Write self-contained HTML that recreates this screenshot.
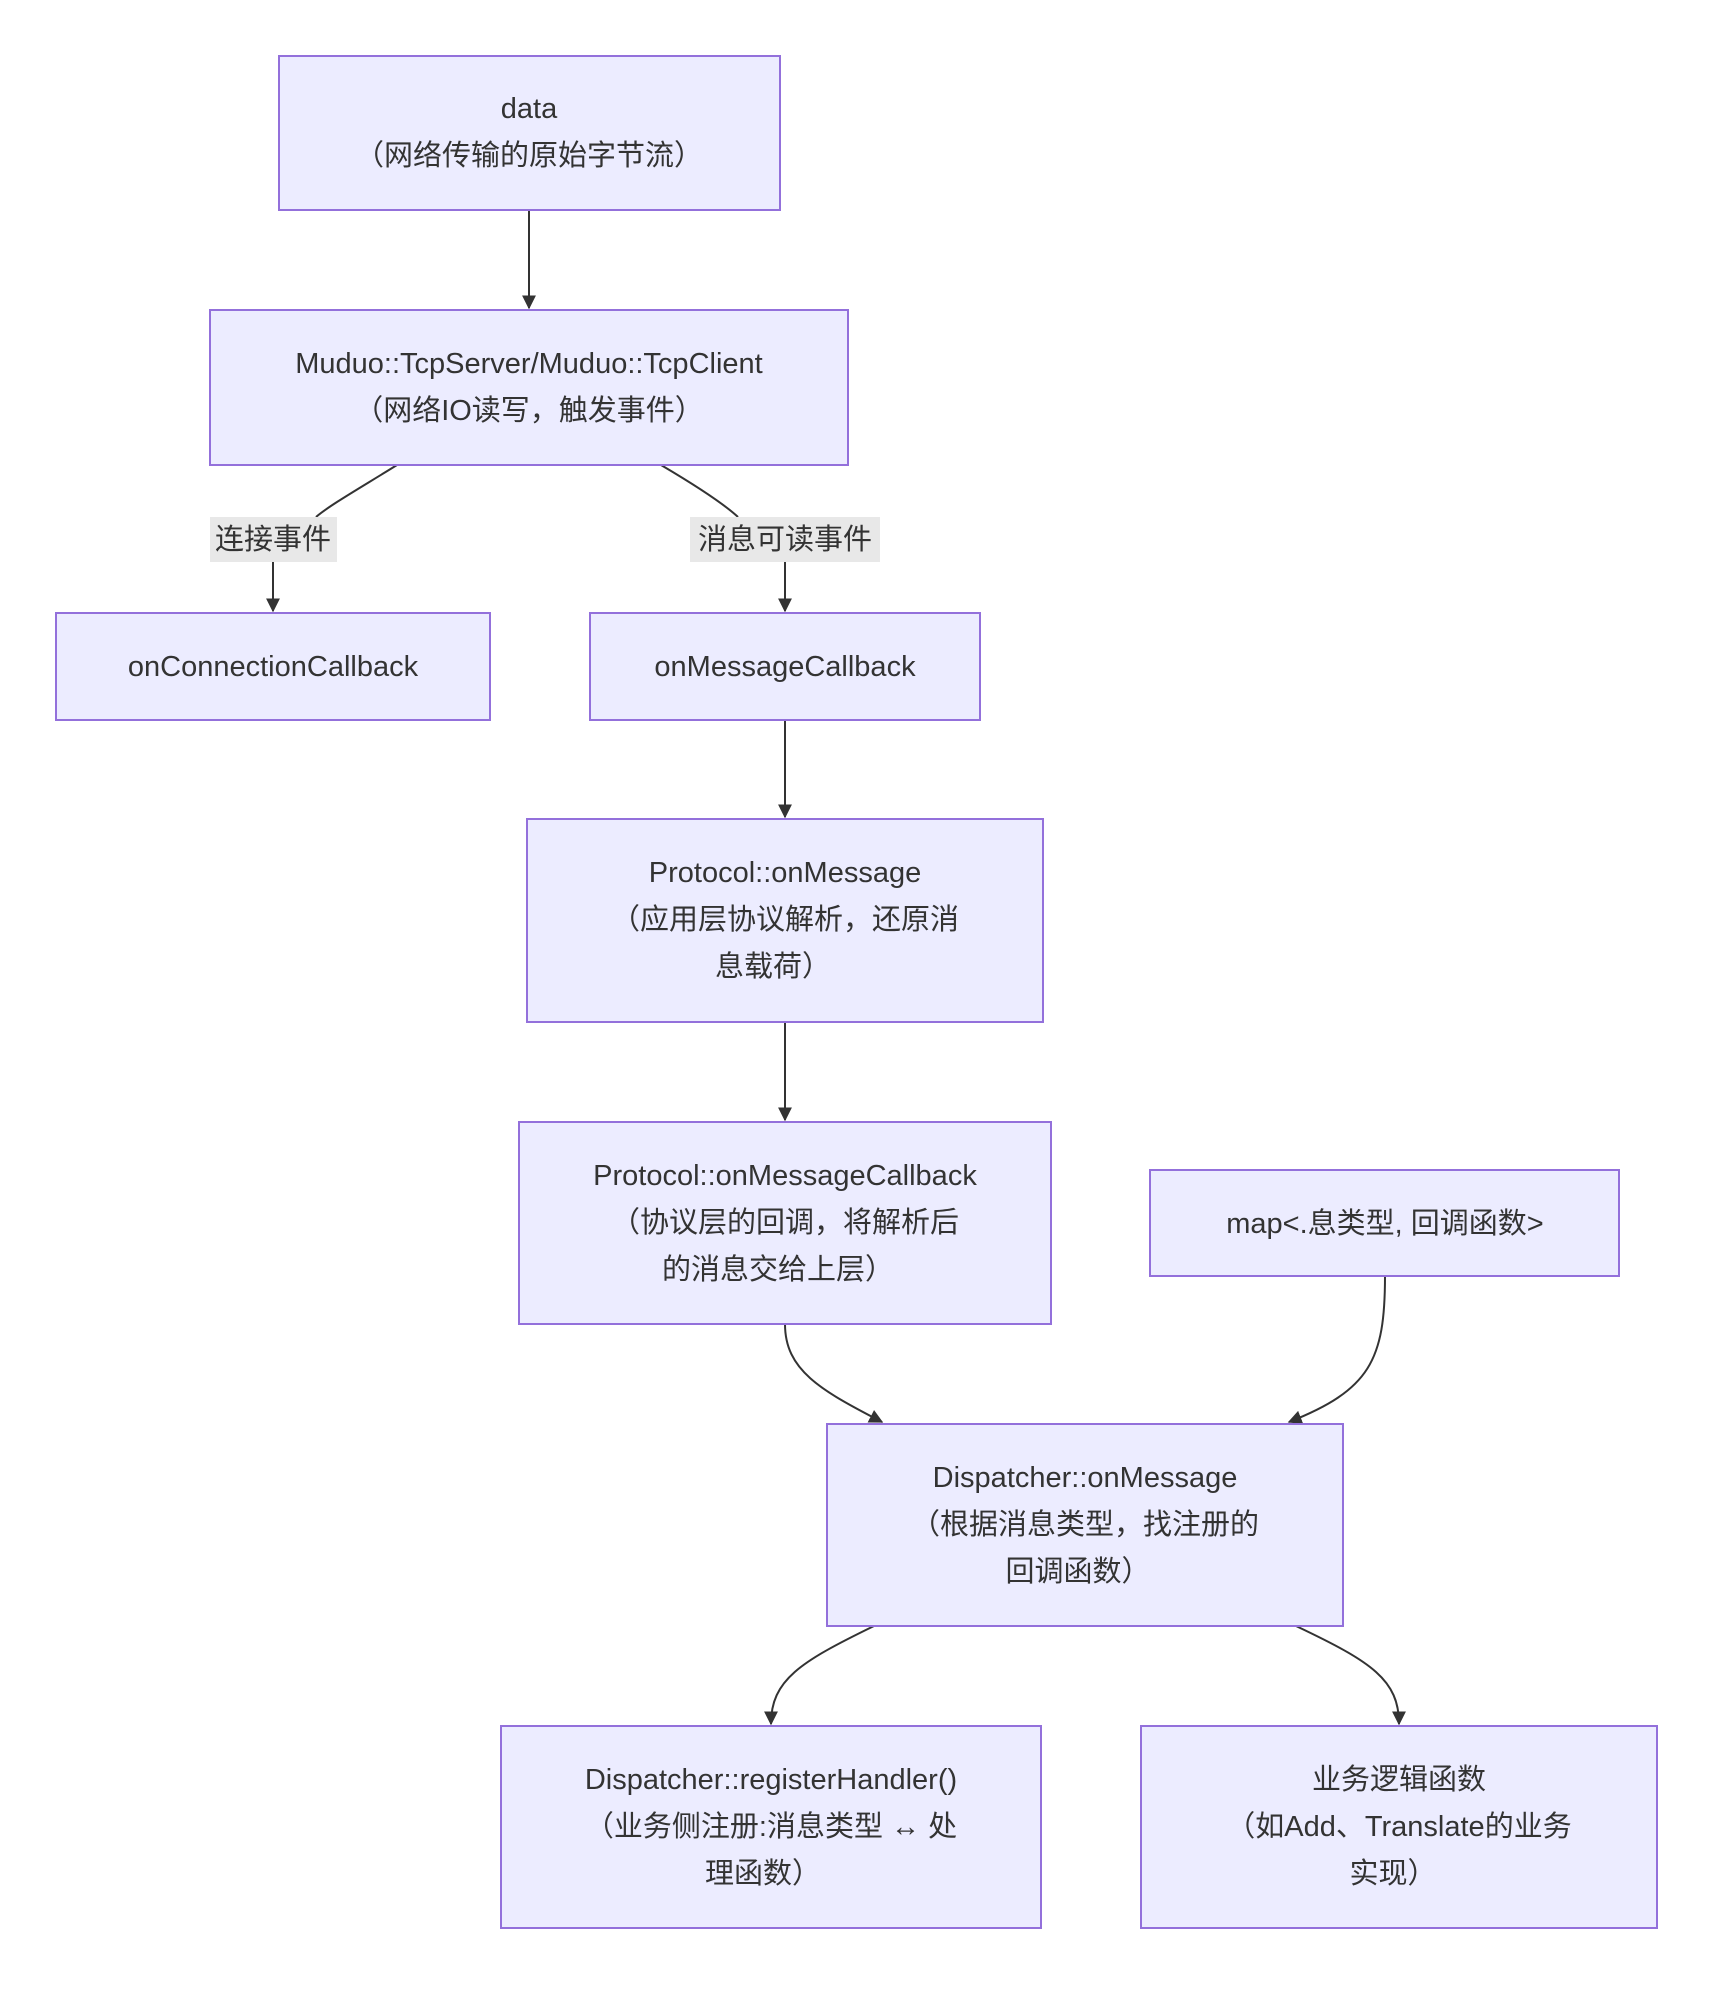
<!DOCTYPE html>
<html><head><meta charset="utf-8"><style>
html,body{margin:0;padding:0;background:#fff}
svg text{font-family:"Liberation Sans","Noto Sans CJK SC",sans-serif;font-size:29px;fill:#333;text-anchor:middle}
</style></head><body>
<svg width="1722" height="1996" viewBox="0 0 1722 1996" xmlns="http://www.w3.org/2000/svg">
<defs><marker id="a" viewBox="0 0 10 10" refX="9" refY="5" markerWidth="7" markerHeight="7" orient="auto"><path d="M0,0L10,5L0,10z" fill="#333"/></marker></defs>
<g fill="none" stroke="#333" stroke-width="2">
<path d="M529,210V308" marker-end="url(#a)"/>
<path d="M397,465C360,488 330,505 316,517"/>
<path d="M273,562C273,580 273,595 273,611" marker-end="url(#a)"/>
<path d="M661,465C700,488 725,505 738,517"/>
<path d="M785,562C785,580 785,595 785,611" marker-end="url(#a)"/>
<path d="M785,720V817" marker-end="url(#a)"/>
<path d="M785,1022V1120" marker-end="url(#a)"/>
<path d="M785,1324C785,1370 820,1390 882,1422" marker-end="url(#a)"/>
<path d="M1385,1276C1385,1360 1370,1390 1289,1422" marker-end="url(#a)"/>
<path d="M874,1626C800,1662 771,1680 771,1724" marker-end="url(#a)"/>
<path d="M1296,1626C1372,1662 1399,1680 1399,1724" marker-end="url(#a)"/>
</g>
<rect x="210" y="517" width="127" height="45" fill="#e8e8e8"/>
<text x="273" y="549">连接事件</text>
<rect x="690" y="517" width="190" height="45" fill="#e8e8e8"/>
<text x="785" y="549">消息可读事件</text>
<g fill="#ECECFF" stroke="#9370DB" stroke-width="2">
<rect x="279" y="56" width="501" height="154"/>
<rect x="210" y="310" width="638" height="155"/>
<rect x="56" y="613" width="434" height="107"/>
<rect x="590" y="613" width="390" height="107"/>
<rect x="527" y="819" width="516" height="203"/>
<rect x="519" y="1122" width="532" height="202"/>
<rect x="1150" y="1170" width="469" height="106"/>
<rect x="827" y="1424" width="516" height="202"/>
<rect x="501" y="1726" width="540" height="202"/>
<rect x="1141" y="1726" width="516" height="202"/>
</g>
<text x="529" y="118">data</text>
<text x="529" y="165">（网络传输的原始字节流）</text>
<text x="529" y="373">Muduo::TcpServer/Muduo::TcpClient</text>
<text x="529" y="420">（网络IO读写，触发事件）</text>
<text x="273" y="676">onConnectionCallback</text>
<text x="785" y="676">onMessageCallback</text>
<text x="785" y="882">Protocol::onMessage</text>
<text x="785" y="929">（应用层协议解析，还原消</text>
<text x="773" y="976">息载荷）</text>
<text x="785" y="1185">Protocol::onMessageCallback</text>
<text x="785" y="1232">（协议层的回调，将解析后</text>
<text x="778" y="1279">的消息交给上层）</text>
<text x="1385" y="1233">map&lt;.息类型, 回调函数&gt;</text>
<text x="1085" y="1487">Dispatcher::onMessage</text>
<text x="1085" y="1534">（根据消息类型，找注册的</text>
<text x="1078" y="1581">回调函数）</text>
<text x="771" y="1789">Dispatcher::registerHandler()</text>
<text x="771" y="1836">（业务侧注册:消息类型 ↔ 处</text>
<text x="763" y="1883">理函数）</text>
<text x="1399" y="1789">业务逻辑函数</text>
<text x="1399" y="1836">（如Add、Translate的业务</text>
<text x="1393" y="1883">实现）</text>
</svg>
</body></html>
